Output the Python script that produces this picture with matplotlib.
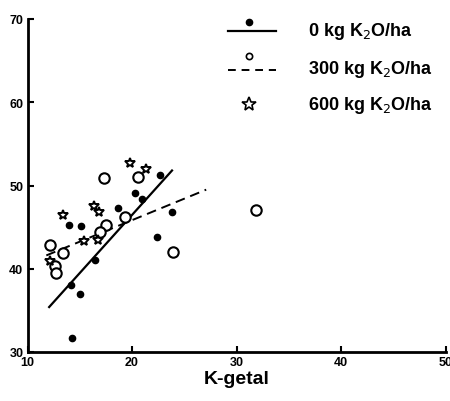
import matplotlib
matplotlib.use("Agg")
import matplotlib.pyplot as plt

plt.rcParams['font.family'] = ['Liberation Sans', 'DejaVu Sans']

# 0 kg K2O/ha (filled dots)
x0 = [22.7, 20.3, 21.0, 18.7, 23.8, 14.0, 15.1, 22.4, 16.5, 14.2, 15.0, 14.3]
y0 = [51.3, 49.1, 48.4, 47.3, 46.8, 45.2, 45.1, 43.8, 41.1, 38.0, 37.0, 31.7]
# 300 kg K2O/ha (open circles)
x300 = [17.3, 20.6, 19.3, 17.5, 16.9, 12.2, 13.4, 23.9, 12.6, 12.7, 31.9]
y300 = [50.9, 51.0, 46.2, 45.3, 44.4, 42.8, 41.9, 42.0, 40.3, 39.5, 47.0]
# 600 kg K2O/ha (stars)
x600 = [19.8, 21.3, 16.4, 16.8, 13.4, 15.4, 16.7, 12.2]
y600 = [52.7, 52.0, 47.5, 46.8, 46.5, 43.3, 43.4, 40.9]

# fitted lines (end points)
fit0_x = [12.0, 23.9]
fit0_y = [35.3, 51.9]
fit300_x = [11.8, 27.1]
fit300_y = [41.6, 49.5]

xticks = [10, 20, 30, 40, 50]
yticks = [30, 40, 50, 60, 70]

fig = plt.figure(figsize=(4.5, 4.02), dpi=100)
ax = fig.add_axes([27.5/450, 49/402, 418/450, 333/402])

ax.plot(fit0_x, fit0_y, color='black', lw=1.6, solid_capstyle='butt')
ax.plot(fit300_x, fit300_y, color='black', lw=1.4, dashes=(5, 3))
ax.plot(x0, y0, 'o', ms=4.5, color='black', ls='none')
ax.plot(x300, y300, 'o', ms=7.5, mfc='white', mec='black', mew=1.5, ls='none')
ax.plot(x600, y600, '*', ms=7.5, mfc='white', mec='black', mew=1.4, ls='none')

ax.set_xlim(10, 50)
ax.set_ylim(30, 70)
ax.set_xticks(xticks)
ax.set_yticks(yticks)
ax.tick_params(direction='in', length=4, width=1.5, labelsize=9, pad=3)
for lbl in ax.get_xticklabels() + ax.get_yticklabels():
    lbl.set_fontweight('bold')
ax.spines['top'].set_visible(False)
ax.spines['right'].set_visible(False)
ax.spines['left'].set_linewidth(2)
ax.spines['bottom'].set_linewidth(2)
ax.set_xlabel('K-getal', fontsize=14, fontweight='bold', labelpad=1)

# legend (manual, axes fraction)
tr = ax.transAxes
def fx(px):
    return (px - 27.5) / 418
def fy(py):
    return (353 - py) / 333
ax.plot([fx(228), fx(276)], [fy(32), fy(32)], color='black', lw=1.6, transform=tr, clip_on=False)
ax.plot([fx(249)], [fy(23)], 'o', ms=4.5, color='black', transform=tr, clip_on=False)
ax.plot([fx(228), fx(276)], [fy(71), fy(71)], color='black', lw=1.4, dashes=(4, 3), transform=tr, clip_on=False)
ax.plot([fx(249)], [fy(57)], 'o', ms=4.5, mfc='white', mec='black', mew=1.2, transform=tr, clip_on=False)
ax.plot([fx(249)], [fy(105)], '*', ms=10, mfc='white', mec='black', mew=1.2, transform=tr, clip_on=False)
labels = ['0 kg K$_2$O/ha', '300 kg K$_2$O/ha', '600 kg K$_2$O/ha']
for lab, py in zip(labels, [32, 69, 105]):
    ax.text(fx(308), fy(py), lab, transform=tr, fontsize=13, fontweight='bold',
            va='center', ha='left')

fig.savefig('out.png', dpi=100)
